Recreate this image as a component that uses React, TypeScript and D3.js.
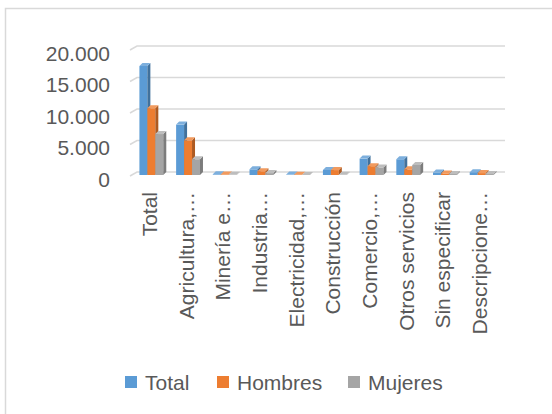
import * as d3 from "d3";
import {useRef, useEffect} from "react";

const categories = ["Total", "Agricultura,…", "Minería e…", "Industria…", "Electricidad,…", "Construcción", "Comercio,…", "Otros servicios", "Sin especificar", "Descripcione…"];
const total = [17300, 8000, 100, 900, 60, 800, 2600, 2500, 400, 450];
const hombres = [10600, 5500, 80, 600, 50, 780, 1400, 900, 250, 300];
const mujeres = [6500, 2500, 20, 300, 10, 20, 1200, 1600, 150, 150];
const seriesNames = ["Total", "Hombres", "Mujeres"];
const yTicks = [0, 5000, 10000, 15000, 20000];

const colors = ["#5B9BD5", "#ED7D31", "#A5A5A5"];
const sideColors = ["#41719C", "#AE5A21", "#7C7C7C"];
const topColors = ["#7DAFDD", "#F19A5E", "#BDBDBD"];

export default function App() {
    const svgRef = useRef(null);
    const width = 552;
    const height = 414;
    const font = "'Liberation Sans', Arial, sans-serif";

    useEffect(() => {
        const svg = d3.select(svgRef.current);
        svg.selectAll("*").remove();

        svg.append("rect")
            .attr("x", 0).attr("y", 0)
            .attr("width", width).attr("height", height)
            .attr("fill", "#fff");

        // chart border (cropped on right and bottom)
        svg.append("rect")
            .attr("x", 5.5).attr("y", 8.5)
            .attr("width", 700).attr("height", 600)
            .attr("fill", "none")
            .attr("stroke", "#D9D9D9")
            .attr("stroke-width", 1.5);

        const x = d3.scaleBand<string>()
            .domain(categories)
            .range([133, 500])
            .paddingInner(0.35)
            .paddingOuter(0.175);

        const xs = d3.scaleBand<string>()
            .domain(seriesNames)
            .range([0, x.bandwidth()]);

        const y = d3.scaleLinear()
            .domain([0, 20000])
            .range([172, 46]);

        const depth = 3;

        // gridlines on the back wall
        svg.append("g")
            .selectAll("path")
            .data(yTicks)
            .join("path")
            .attr("d", d => `M130,${y(d) + 4}L137,${y(d)}L505,${y(d)}`)
            .attr("fill", "none")
            .attr("stroke", "#D9D9D9")
            .attr("stroke-width", 1.5);

        // y labels
        svg.append("g")
            .selectAll("text")
            .data(yTicks)
            .join("text")
            .attr("x", 110)
            .attr("y", d => y(d) + 7)
            .attr("text-anchor", "end")
            .attr("dominant-baseline", "central")
            .attr("font-family", font)
            .attr("font-size", 21)
            .attr("fill", "#595959")
            .text(d => d3.format(",")(d).replace(/,/g, "."));

        // 3D bars
        const series = [total, hombres, mujeres];
        const bw = xs.bandwidth();
        const g = svg.append("g");
        categories.forEach((c, i) => {
            series.forEach((vals, s) => {
                const x0 = (x(c) as number) + (xs(seriesNames[s]) as number);
                const top = y(vals[i]) + depth;
                const bottom = y(0) + depth;
                g.append("rect")
                    .attr("x", x0).attr("y", top)
                    .attr("width", bw).attr("height", Math.max(0, bottom - top))
                    .attr("fill", colors[s]);
                g.append("path")
                    .attr("d", `M${x0 + bw},${top}L${x0 + bw + depth},${top - depth}L${x0 + bw + depth},${bottom - depth}L${x0 + bw},${bottom}Z`)
                    .attr("fill", sideColors[s]);
                g.append("path")
                    .attr("d", `M${x0},${top}L${x0 + depth},${top - depth}L${x0 + bw + depth},${top - depth}L${x0 + bw},${top}Z`)
                    .attr("fill", topColors[s]);
            });
        });

        // category labels
        svg.append("g")
            .selectAll("text")
            .data(categories)
            .join("text")
            .attr("transform", d => `translate(${(x(d) as number) + x.bandwidth() / 2 - 2},192) rotate(-90)`)
            .attr("text-anchor", "end")
            .attr("dominant-baseline", "central")
            .attr("font-family", font)
            .attr("font-size", 21)
            .attr("fill", "#595959")
            .text(d => d);

        // legend
        const legendX = [125, 217, 348];
        const legend = svg.append("g")
            .selectAll("g")
            .data(seriesNames)
            .join("g")
            .attr("transform", (d, i) => `translate(${legendX[i]},382)`);
        legend.append("rect")
            .attr("x", 0).attr("y", -6)
            .attr("width", 12).attr("height", 12)
            .attr("fill", (d, i) => colors[i]);
        legend.append("text")
            .attr("x", 20).attr("y", 0)
            .attr("dominant-baseline", "central")
            .attr("font-family", font)
            .attr("font-size", 21)
            .attr("fill", "#595959")
            .text(d => d);
    }, []);

    return (
        <svg ref={svgRef} width={width} height={height}
             style={{position: "absolute", left: 0, top: 0}} />
    );
}
